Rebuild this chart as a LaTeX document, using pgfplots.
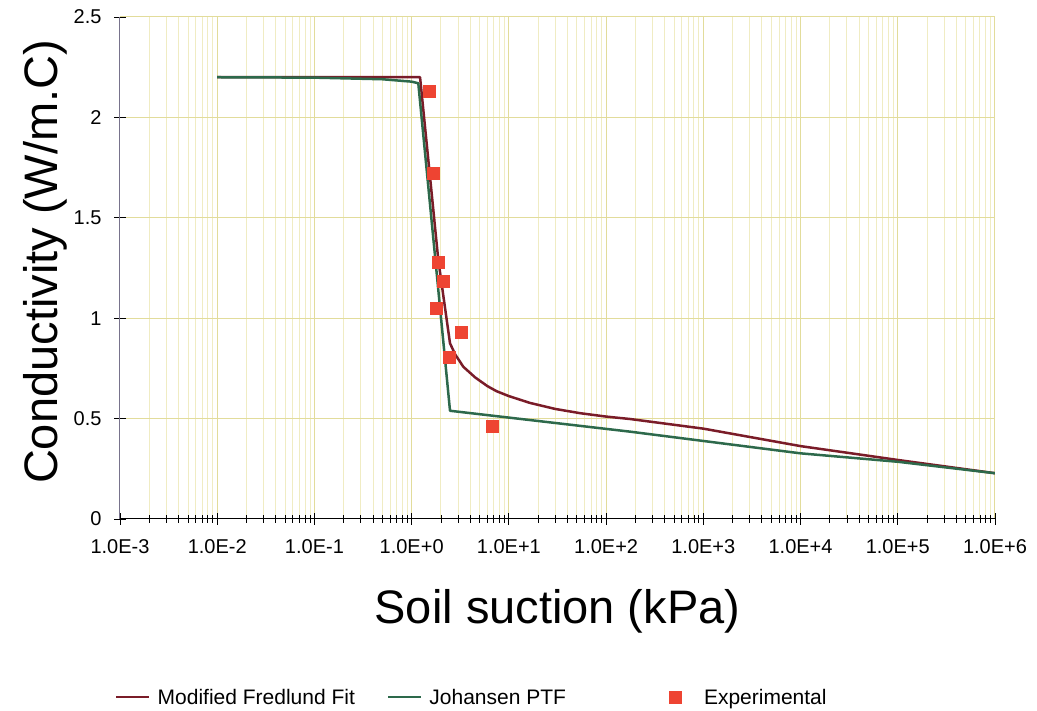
\documentclass[border=0pt]{standalone}
\usepackage{pgfplots}
\pgfplotsset{compat=1.18}
\usepackage{fontspec}
\setmainfont{Liberation Sans}
\definecolor{fredred}{RGB}{122,28,40}
\definecolor{johgreen}{RGB}{45,105,75}
\definecolor{expred}{RGB}{238,68,50}
\definecolor{gridmaj}{RGB}{226,220,155}
\definecolor{gridmin}{RGB}{240,236,195}
\definecolor{yaxc}{RGB}{120,115,140}
\begin{document}
\begin{tikzpicture}
\begin{axis}[
  scale only axis,
  width=875pt, height=502pt,
  xmode=log,
  xmin=1e-3, xmax=1e6,
  ymin=0, ymax=2.5,
  axis x line*=bottom,
  axis y line*=left,
  x axis line style={black, line width=1pt},
  y axis line style={yaxc, line width=1pt},
  xtick={1e-3,1e-2,1e-1,1,10,100,1000,1e4,1e5,1e6},
  xticklabels={1.0E-3,1.0E-2,1.0E-1,1.0E+0,1.0E+1,1.0E+2,1.0E+3,1.0E+4,1.0E+5,1.0E+6},
  minor xtick={2e-3,3e-3,4e-3,5e-3,6e-3,7e-3,8e-3,9e-3,
               2e-2,3e-2,4e-2,5e-2,6e-2,7e-2,8e-2,9e-2,
               2e-1,3e-1,4e-1,5e-1,6e-1,7e-1,8e-1,9e-1,
               2,3,4,5,6,7,8,9,
               20,30,40,50,60,70,80,90,
               200,300,400,500,600,700,800,900,
               2e3,3e3,4e3,5e3,6e3,7e3,8e3,9e3,
               2e4,3e4,4e4,5e4,6e4,7e4,8e4,9e4,
               2e5,3e5,4e5,5e5,6e5,7e5,8e5,9e5},
  ytick={0,0.5,1,1.5,2,2.5},
  /pgf/number format/assume math mode=true,
  grid=both,
  major grid style={draw=gridmaj, line width=1pt},
  minor grid style={draw=gridmin, line width=0.9pt},
  tick align=center,
  major tick length=12pt,
  minor tick length=8pt,
  every tick/.style={black, line width=0.8pt},
  tick label style={font=\fontsize{20}{24}\selectfont},
  xticklabel style={yshift=-11pt},
  yticklabel style={xshift=-9pt},
  xlabel={Soil suction (kPa)},
  ylabel={Conductivity (W/m.C)},
  label style={font=\fontsize{47}{56}\selectfont},
  xlabel style={at={(axis description cs:0.5,-0.183)}, anchor=center},
  ylabel style={at={(axis description cs:-0.0857,0.512)}, anchor=center},
  legend columns=3,
  legend style={at={(axis description cs:-0.0057,-0.355)}, anchor=west,
    inner sep=0pt, draw=none, fill=none, font=\fontsize{21}{25}\selectfont,
    /tikz/every odd column/.append style={column sep=5pt},
    /tikz/every even column/.append style={column sep=30pt}},
  legend image code/.code={\draw[mark repeat=2,mark phase=2,#1] plot coordinates {(0pt,0pt) (16.5pt,0pt) (33pt,0pt)};},
]
\addplot[fredred, line width=2.5pt, line join=round] coordinates {
 (0.01,2.2) (1.22,2.2) (1.88,1.29) (2.48,0.875) (2.8,0.82) (3.4,0.758)
 (4.5,0.705) (6,0.662) (7.5,0.636) (10,0.612) (16.5,0.578) (30,0.548)
 (54,0.527) (100,0.51) (176,0.498) (1000,0.45) (1e4,0.363) (1e5,0.294) (1e6,0.228)};
\addlegendentry{Modified Fredlund Fit}
\addplot[johgreen, line width=2.5pt, line join=round] coordinates {
 (0.01,2.2) (0.1,2.198) (0.5,2.19) (1.0,2.178) (1.17,2.17) (2.48,0.539)
 (176,0.435) (1e4,0.327) (1e5,0.285) (1e6,0.228)};
\addlegendentry{Johansen PTF\hspace*{71pt}}
\addplot[only marks, mark=square*, mark size=6pt, color=expred] coordinates {
 (1.51,2.128) (1.67,1.722) (1.88,1.281) (2.12,1.182) (1.77,1.049)
 (3.27,0.928) (2.43,0.808) (6.67,0.46)};
\addlegendentry{\hspace*{16pt}Experimental}
\end{axis}
\path (-120pt,-192pt) rectangle (917pt,519pt);
\end{tikzpicture}
\end{document}
